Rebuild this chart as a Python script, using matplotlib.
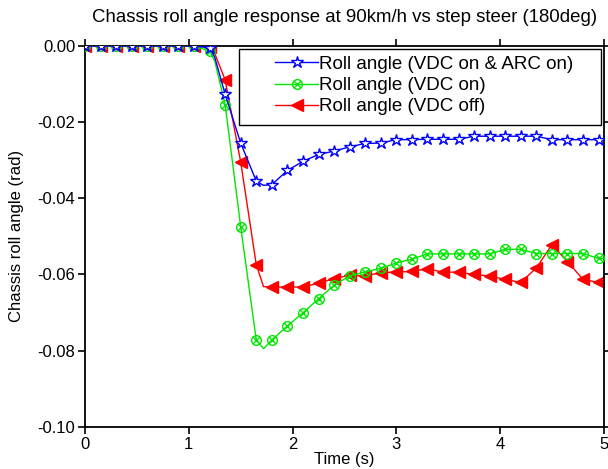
import numpy as np
import matplotlib
matplotlib.use("Agg")
import matplotlib.pyplot as plt
from matplotlib.path import Path
from matplotlib.patches import Rectangle, Shadow
from matplotlib.legend_handler import HandlerLine2D

plt.rcParams["font.family"] = ["Liberation Sans", "DejaVu Sans"]
plt.rcParams["axes.unicode_minus"] = False

# time samples (s); 1.25, 1.72 and 5.0 carry the curve between marker stations
time_s = [0.0, 0.15, 0.3, 0.45, 0.6, 0.75, 0.9, 1.05, 1.2, 1.25, 1.35, 1.5,
          1.65, 1.72, 1.8, 1.95, 2.1, 2.25, 2.4, 2.55, 2.7, 2.85, 3.0, 3.15,
          3.3, 3.45, 3.6, 3.75, 3.9, 4.05, 4.2, 4.35, 4.5, 4.65, 4.8, 4.95, 5.0]

roll_vdc_arc = [0, 0, 0, 0, 0, 0, 0, 0, -0.0005, -0.003, -0.0127, -0.0255,
                -0.0355, -0.0366, -0.0364, -0.0327, -0.0303, -0.0285, -0.0276,
                -0.0265, -0.0256, -0.0255, -0.0246, -0.0246, -0.0245, -0.0245,
                -0.0245, -0.0237, -0.0237, -0.0237, -0.0237, -0.0237, -0.0246,
                -0.0246, -0.0246, -0.0246, -0.0246]

roll_vdc = [0, 0, 0, 0, 0, 0, 0, 0, -0.0013, -0.004, -0.0154, -0.0475,
            -0.0772, -0.0795, -0.0772, -0.0735, -0.0701, -0.0664, -0.0628,
            -0.0604, -0.0593, -0.0584, -0.0570, -0.0560, -0.0546, -0.0546,
            -0.0546, -0.0546, -0.0546, -0.0534, -0.0534, -0.0545, -0.0545,
            -0.0545, -0.0545, -0.0558, -0.0558]

roll_off = [0, 0, 0, 0, 0, 0, 0, 0, -0.0003, -0.002, -0.0089, -0.0305,
            -0.0574, -0.0632, -0.0633, -0.0633, -0.0633, -0.0623, -0.0611,
            -0.0602, -0.0604, -0.0595, -0.0594, -0.0592, -0.0585, -0.0594,
            -0.0594, -0.0600, -0.0604, -0.0613, -0.0621, -0.0583, -0.0522,
            -0.0566, -0.0613, -0.0621, -0.0622]

labels = ["Roll angle (VDC on & ARC on)", "Roll angle (VDC on)", "Roll angle (VDC off)"]

t = np.array(time_s)
# markers only on the 0.15 s stations
marks = [i for i, v in enumerate(t) if abs(v / 0.15 - round(v / 0.15)) < 1e-6 and v < 4.99]

# circle with a cross through it
c = Path.unit_circle()
x_verts = [(-0.72, -0.72), (0.72, 0.72), (-0.72, 0.72), (0.72, -0.72)]
x_codes = [Path.MOVETO, Path.LINETO, Path.MOVETO, Path.LINETO]
otimes = Path.make_compound_path(c, Path(x_verts, x_codes))

fig = plt.figure(figsize=(6.08, 4.69), dpi=100)
ax = fig.add_axes([0.140, 0.090, 0.853, 0.812])

ax.plot(t, roll_vdc_arc, color="#0000ff", lw=1.0, marker="*", ms=9,
        mfc="white", mec="#0000ff", mew=1.0, markevery=marks, label=labels[0], zorder=4)
ax.plot(t, roll_vdc, color="#00e600", lw=1.0, marker=otimes, ms=7,
        mfc="none", mec="#00e600", mew=1.0, markevery=marks, label=labels[1], zorder=3)
ax.plot(t, roll_off, color="#ff0000", lw=1.0, marker="<", ms=8,
        mfc="#ff0000", mec="#ff0000", markevery=marks, label=labels[2], zorder=2)

ax.set_xlim(0, 5)
ax.set_ylim(-0.10, 0.0)
ax.set_xticks(np.arange(0, 6, 1))
ax.set_yticks(np.arange(-0.10, 0.001, 0.02))
ax.yaxis.set_major_formatter(matplotlib.ticker.FormatStrFormatter("%.2f"))
ax.tick_params(direction="out", length=5, width=1.2, labelsize=12,
               top=True, right=True, pad=2)
for s in ax.spines.values():
    s.set_linewidth(1.3)

ax.set_xlabel("Time (s)", fontsize=12, labelpad=0)
ax.set_ylabel("Chassis roll angle (rad)", fontsize=12, labelpad=10)
ax.set_title("Chassis roll angle response at 90km/h vs step steer (180deg)",
             fontsize=13.4, pad=17)

# legend box drawn by hand so it can carry spare room on the right
box_x0, box_x1, box_y0, box_y1 = 0.2976, 0.995, 0.7927, 0.9913
box = Rectangle((box_x0, box_y0), box_x1 - box_x0, box_y1 - box_y0,
                transform=ax.transAxes, facecolor="white", edgecolor="black",
                lw=1.0, zorder=4.6, clip_on=False)
shade = Shadow(box, 1.5, -1.5, facecolor="0.5", edgecolor="0.5", alpha=1,
               zorder=4.5, clip_on=False)
ax.add_patch(shade)
ax.add_patch(box)

leg = ax.legend(loc="upper left", bbox_to_anchor=(box_x0, box_y1), borderaxespad=0,
                fontsize=13.5, frameon=False, handlelength=3.85, handletextpad=0.05,
                labelspacing=0.22, borderpad=0.35,
                handler_map={matplotlib.lines.Line2D: HandlerLine2D(xpad=1.55)})
leg.set_zorder(5)

fig.savefig("out.png", dpi=100)
